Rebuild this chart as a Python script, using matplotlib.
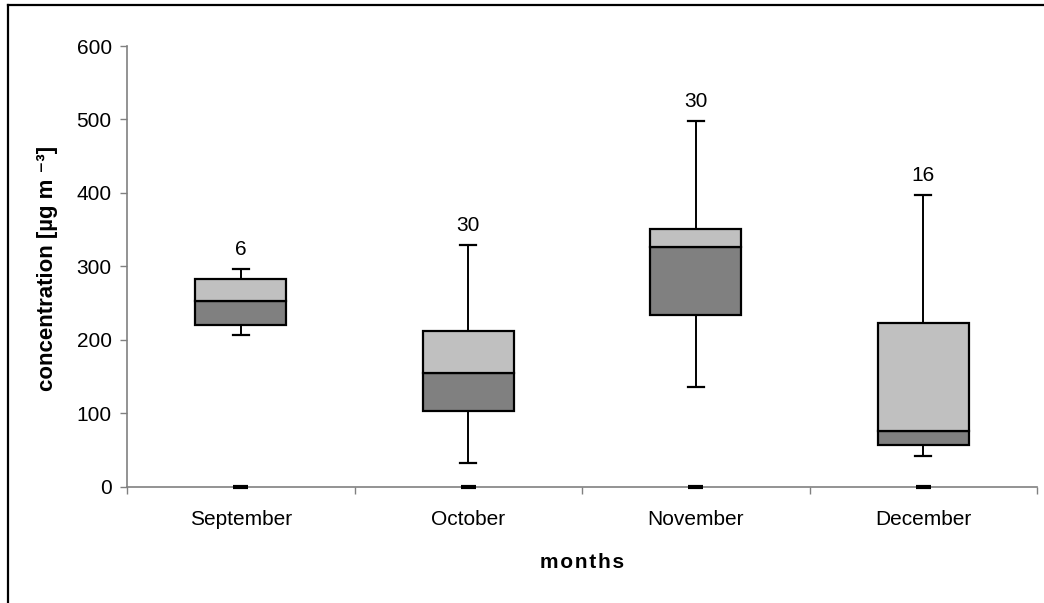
import matplotlib
matplotlib.use("Agg")
import matplotlib.pyplot as plt
from matplotlib.lines import Line2D

plt.rcParams['font.family'] = ['Liberation Sans', 'DejaVu Sans']

months = ["September", "October", "November", "December"]
whisker_low = [206, 32, 136, 42]
q1 = [220, 103, 234, 57]
median = [253, 155, 327, 76]
q3 = [283, 212, 351, 223]
whisker_high = [296, 329, 498, 397]
n_samples = ["6", "30", "30", "16"]
zero_marks = [0, 0, 0, 0]
yticks = [0, 100, 200, 300, 400, 500, 600]

W, H = 1044, 603
fig = plt.figure(figsize=(W / 100, H / 100), dpi=100)
ax = fig.add_axes([127 / W, 1 - 486.7 / H, (1037 - 127) / W, (486.7 - 46) / H])

x = list(range(len(months)))
bw = 0.40
dark = "#808080"
light = "#c0c0c0"

ax.bar(x, [m - a for m, a in zip(median, q1)], bottom=q1, width=bw,
       color=dark, edgecolor="black", linewidth=1.6, zorder=3)
ax.bar(x, [b - m for b, m in zip(q3, median)], bottom=median, width=bw,
       color=light, edgecolor="black", linewidth=1.6, zorder=3)

cap = 0.035
for xi, lo, a, b, hi in zip(x, whisker_low, q1, q3, whisker_high):
    ax.plot([xi, xi], [hi, b], color="black", lw=1.4, zorder=2)
    ax.plot([xi, xi], [a, lo], color="black", lw=1.4, zorder=2)
    ax.plot([xi - cap, xi + cap], [hi, hi], color="black", lw=1.6, zorder=2)
    ax.plot([xi - cap, xi + cap], [lo, lo], color="black", lw=1.6, zorder=2)

for xi, z in zip(x, zero_marks):
    ax.plot([xi - 0.033, xi + 0.033], [z, z], color="black", lw=3, zorder=4,
            solid_capstyle="butt", clip_on=False)

for xi, hi, n in zip(x, whisker_high, n_samples):
    ax.annotate(n, (xi, hi), xytext=(0, 14), textcoords="offset points",
                ha="center", va="center", fontsize=15)

ax.set_xlim(-0.5, len(months) - 0.5)
ax.set_ylim(0, 600)
ax.set_yticks(yticks)
ax.set_xticks(x)
ax.set_xticklabels(months)
ax.set_xticks([i - 0.5 for i in range(len(months) + 1)], minor=True)
ax.tick_params(axis="x", which="major", length=0, pad=17, labelsize=15)
ax.tick_params(axis="x", which="minor", length=5, color=dark, width=1)
ax.tick_params(axis="y", length=5, color=dark, width=1, pad=6, labelsize=15)

for s in ["top", "right"]:
    ax.spines[s].set_visible(False)
for s in ["left", "bottom"]:
    ax.spines[s].set_color(dark)
    ax.spines[s].set_linewidth(1.2)

fig.text(48 / W, 1 - 268 / H, "concentration [µg m \u207b\u00b3]",
         rotation=90, ha="center", va="center", fontsize=16, fontweight="bold")
fig.text(582 / W, 1 - 562 / H, "\u200a".join("months"), ha="center", va="center",
         fontsize=15, fontweight="bold")

fig.add_artist(Line2D([7.5 / W, 7.5 / W], [0, 1 - 5 / H], color="black", lw=1.6,
                      transform=fig.transFigure))
fig.add_artist(Line2D([7.5 / W, 1], [1 - 5 / H, 1 - 5 / H], color="black", lw=1.6,
                      transform=fig.transFigure))

fig.savefig("out.png", dpi=100)
